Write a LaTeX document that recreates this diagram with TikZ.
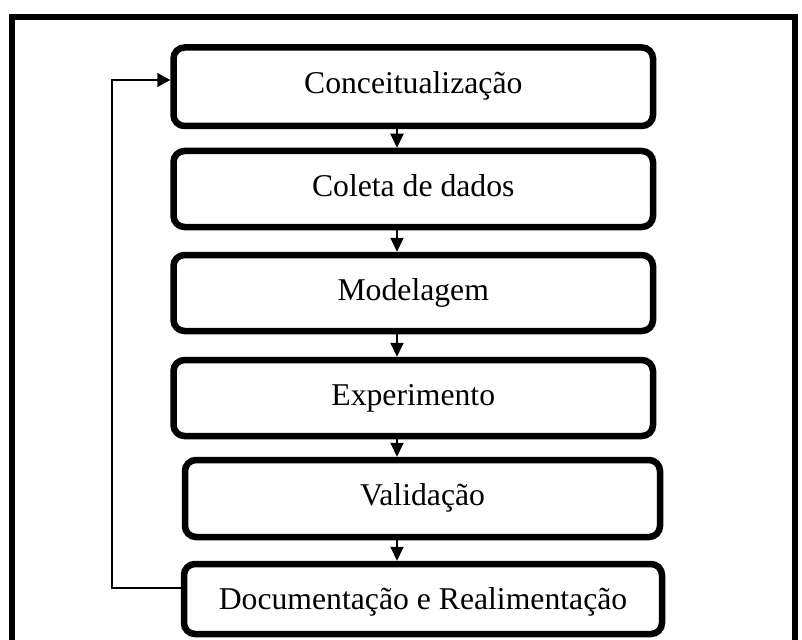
\documentclass[tikz,border=0pt]{standalone}
\usepackage{fontspec}
\setmainfont{Liberation Serif}
\usetikzlibrary{arrows.meta}
\begin{document}
\begin{tikzpicture}[x=1pt,y=-1pt,
  box/.style={draw=black,line width=6.5pt,rounded corners=11pt,fill=white,
    font=\fontsize{31.7}{38}\selectfont,text height=21pt,text depth=7pt,
    inner sep=0pt,align=center},
  arr/.style={line width=2pt,-{Triangle[length=14pt,width=13pt]}},
  fb/.style={line width=1.5pt,-{Triangle[length=13pt,width=14pt]}},
  frame/.style={line width=6pt,line join=miter}]
\useasboundingbox (0,0) rectangle (802,639);
\draw[frame] (12,645) -- (12,17) -- (795,17) -- (795,645);
\node[box,minimum width=479.5pt,minimum height=78.5pt] (b1) at (413.25,86.75) {Conceitualização};
\node[box,minimum width=479.5pt,minimum height=76pt] (b2) at (413.25,189) {Coleta de dados};
\node[box,minimum width=479.5pt,minimum height=76pt] (b3) at (413.25,293) {Modelagem};
\node[box,minimum width=479.5pt,minimum height=76pt] (b4) at (413.25,398) {Experimento};
\node[box,minimum width=475pt,minimum height=77pt] (b5) at (422.5,498.5) {Validação};
\node[box,minimum width=478pt,minimum height=70pt,text height=24pt,text depth=4pt] (b6) at (423,599) {Documentação e Realimentação};
\coordinate (ax) at (397,0);
\draw[arr] (b1.south -| ax) -- (b2.north -| ax);
\draw[arr] (b2.south -| ax) -- (b3.north -| ax);
\draw[arr] (b3.south -| ax) -- (b4.north -| ax);
\draw[arr] (b4.south -| ax) -- (b5.north -| ax);
\draw[arr] (b5.south -| ax) -- (b6.north -| ax);
\coordinate (c1) at (112,588);
\coordinate (c2) at (112,80);
\draw[fb] ([yshift=11pt]b6.west) -- (c1) -- (c2) -- ([yshift=6.75pt]b1.west);
\end{tikzpicture}
\end{document}
